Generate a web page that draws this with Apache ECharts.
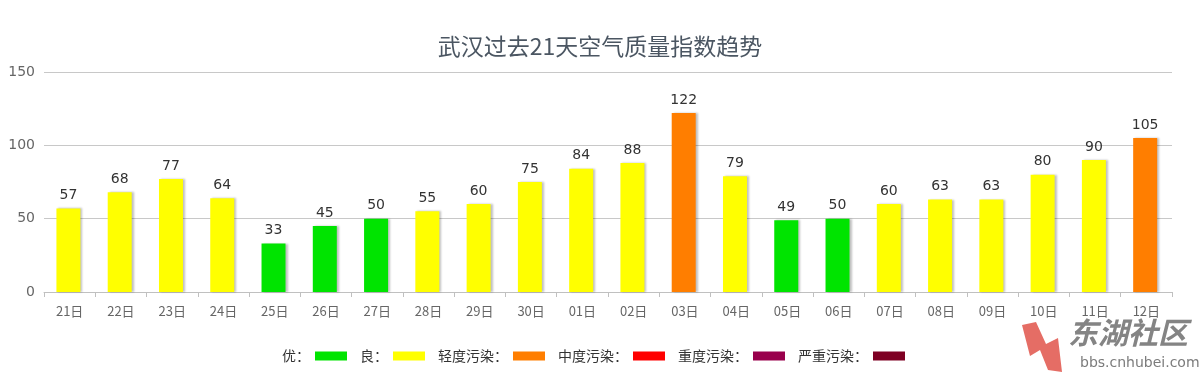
<!DOCTYPE html>
<html><head><meta charset="utf-8">
<script src="https://cdn.jsdelivr.net/npm/echarts@6/dist/echarts.min.js"></script>
<style>html,body{margin:0;padding:0;background:#fff}#c{width:1200px;height:377px}</style>
</head><body><div id="c"></div>
<script>
const categories = ['21日','22日','23日','24日','25日','26日','27日','28日','29日','30日','01日','02日','03日','04日','05日','06日','07日','08日','09日','10日','11日','12日'];
const aqiValues = [57,68,77,64,33,45,50,55,60,75,84,88,122,79,49,50,60,63,63,80,90,105];
const levelNames = ['优：','良：','轻度污染：','中度污染：','重度污染：','严重污染：'];
const levelColors = ['#00e400','#ffff00','#ff7e00','#ff0000','#99004c','#7e0023'];
const levelUpper = [50,100,150,200,300,500];
const yTicks = [0,50,100,150];

function colorFor(v){ for(let i=0;i<levelUpper.length;i++){ if(v<=levelUpper[i]) return levelColors[i]; } return levelColors[levelColors.length-1]; }

const chart = echarts.init(document.getElementById('c'));
const series = [{
  type:'bar', name:'AQI', barWidth:24,
  data: aqiValues.map(v=>({value:v,itemStyle:{color:colorFor(v)}})),
  itemStyle:{shadowColor:'rgba(0,0,0,0.25)',shadowBlur:2,shadowOffsetX:2,shadowOffsetY:0},
  label:{show:true,position:'top',color:'#333',fontSize:14,fontFamily:'DejaVu Sans',distance:6},
  z:3
}];
levelNames.forEach((n,i)=>series.push({type:'bar',name:n,data:[],itemStyle:{color:levelColors[i]}}));

chart.setOption({
  animation:false,
  title:{text:'武汉过去21天空气质量指数趋势',left:'center',top:30,textStyle:{fontSize:23,fontWeight:'normal',color:'#4b5662',fontFamily:'Noto Sans CJK SC'}},
  grid:{left:44,right:28,top:72,bottom:85},
  legend:{data:levelNames,bottom:9,left:277,align:'right',itemWidth:32,itemHeight:9,itemGap:13,itemStyle:{borderWidth:0},icon:'rect',
    textStyle:{color:'#333',fontSize:14,fontFamily:'Noto Sans CJK SC',padding:[0,0,0,0]},selectedMode:false},
  xAxis:{type:'category',data:categories,
    axisLine:{lineStyle:{color:'#c0c0c0'}},
    axisTick:{show:true,length:5,lineStyle:{color:'#c0c0c0'}},
    axisLabel:{color:'#666',fontSize:13,margin:13,fontFamily:'Noto Sans CJK SC'}},
  yAxis:{type:'value',min:yTicks[0],max:yTicks[yTicks.length-1],interval:50,
    axisLine:{show:false},axisTick:{show:false},
    axisLabel:{color:'#666',fontSize:14,margin:9,fontFamily:'DejaVu Sans'},
    splitLine:{lineStyle:{color:'#c8c8c8'}}},
  graphic:[
    {type:'polygon',shape:{points:[[1022,325],[1036,322],[1046,344],[1058,338],[1062,372],[1048,370],[1040,350],[1030,356]]},style:{fill:'rgba(220,60,50,0.75)'},z:10},
    {type:'text',left:1068,top:318,style:{text:'东湖社区',font:'italic bold 30px "Noto Sans CJK SC"',fill:'rgba(110,110,110,0.85)'},z:10},
    {type:'text',left:1080,top:356,style:{text:'bbs.cnhubei.com',font:'14px "DejaVu Sans"',fill:'rgba(100,100,100,0.85)'},z:10}
  ],
  series:series
});
</script></body></html>
